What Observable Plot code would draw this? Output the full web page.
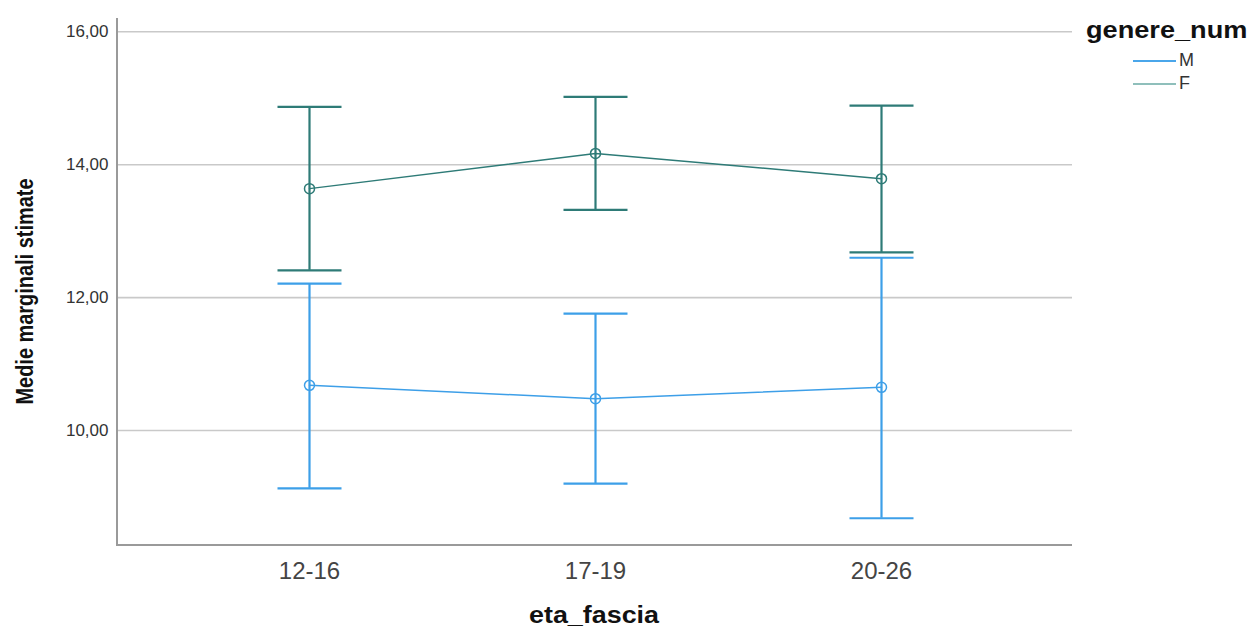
<!DOCTYPE html>
<html>
<head>
<meta charset="utf-8">
<script src="https://cdn.jsdelivr.net/npm/d3@7"></script>
<script src="https://cdn.jsdelivr.net/npm/@observablehq/plot@0.6"></script>
<style>
  html, body { margin: 0; padding: 0; background: #fff; }
  #wrap { position: relative; width: 1252px; height: 630px; font-family: "Liberation Sans", Arial, sans-serif; }
  #legend { position: absolute; left: 1086px; top: 17px; color: #000; }
  #legend .title { font-weight: bold; font-size: 23px; transform: scaleX(1.18); transform-origin: left center; white-space: nowrap; color: #111; }
  #legend .item { position: absolute; left: 47px; font-size: 18px; color: #333; white-space: nowrap; }
  #legend .item span { display: inline-block; width: 43px; height: 2px; vertical-align: middle; margin-right: 3px; }
</style>
</head>
<body>
<div id="wrap">
  <div id="chart"></div>
  <div id="legend">
    <div class="title">genere_num</div>
    <div class="item" style="top:33px"><span style="background:#4aa6ea"></span>M</div>
    <div class="item" style="top:56px"><span style="background:#8fbfbb"></span>F</div>
  </div>
</div>
<script>
const ageGroups = ["12-16", "17-19", "20-26"];
const genders = ["M", "F"];
const meanM = [10.68, 10.48, 10.65];
const lowerM = [9.13, 9.20, 8.68];
const upperM = [12.21, 11.76, 12.60];
const meanF = [13.64, 14.17, 13.79];
const lowerF = [12.41, 13.32, 12.68];
const upperF = [14.87, 15.02, 14.89];
const yTicks = [10, 12, 14, 16];
const colors = {M: "#3d9fe8", F: "#2e7b77"};

const rows = [];
ageGroups.forEach((a, i) => {
  rows.push({age: a, g: "M", mean: meanM[i], lo: lowerM[i], hi: upperM[i]});
  rows.push({age: a, g: "F", mean: meanF[i], lo: lowerF[i], hi: upperF[i]});
});

const capSymbol = {
  draw(context) {
    context.moveTo(-32, 0);
    context.lineTo(32, 0);
  }
};

const W = 1252, H = 630;
const mL = 117, mR = 180, mT = 18, mB = 85;

const plot = Plot.plot({
  width: W,
  height: H,
  marginLeft: mL,
  marginRight: mR,
  marginTop: mT,
  marginBottom: mB,
  style: {fontFamily: "'Liberation Sans', Arial, sans-serif", background: "#fff", overflow: "visible"},
  x: {type: "point", domain: ageGroups, padding: 0.664, label: null, axis: null},
  y: {domain: [8.27, 16.2], label: null, axis: null},
  marks: [
    Plot.ruleY(yTicks, {stroke: "#c9c9c9", strokeWidth: 1.6}),
    Plot.axisY({ticks: yTicks, tickSize: 0, tickPadding: 9, fontSize: 17, color: "#333", tickFormat: d => d3.format(".2f")(d).replace(".", ","), label: null}),
    Plot.axisX({tickSize: 0, tickPadding: 16, fontSize: 24, color: "#444", label: null}),
    Plot.ruleX(rows, {x: "age", y1: "lo", y2: "hi", stroke: d => colors[d.g], strokeWidth: 2.2}),
    Plot.dot(rows, {x: "age", y: "lo", symbol: capSymbol, fill: "none", stroke: d => colors[d.g], strokeWidth: 2.2}),
    Plot.dot(rows, {x: "age", y: "hi", symbol: capSymbol, fill: "none", stroke: d => colors[d.g], strokeWidth: 2.2}),
    Plot.line(rows, {x: "age", y: "mean", z: "g", stroke: d => colors[d.g], strokeWidth: 1.5}),
    Plot.dot(rows, {x: "age", y: "mean", r: 5, stroke: d => colors[d.g], strokeWidth: 1.5, fill: "none"})
  ]
});

const svg = d3.select(plot);
// axis frame lines (left and bottom)
svg.append("path")
  .attr("d", `M${mL},${mT}V${H - mB}H${W - mR}`)
  .attr("fill", "none")
  .attr("stroke", "#9a9a9a")
  .attr("stroke-width", 2);
// y-axis title
svg.append("text")
  .attr("transform", `translate(33,${(178 + 405) / 2}) rotate(-90)`)
  .attr("text-anchor", "middle")
  .attr("font-size", 23)
  .attr("font-weight", "bold")
  .attr("fill", "#111")
  .attr("textLength", 226)
  .attr("lengthAdjust", "spacingAndGlyphs")
  .text("Medie marginali stimate");
// x-axis title
svg.append("text")
  .attr("x", 594)
  .attr("y", 623)
  .attr("text-anchor", "middle")
  .attr("font-size", 23)
  .attr("font-weight", "bold")
  .attr("fill", "#111")
  .attr("textLength", 130)
  .attr("lengthAdjust", "spacingAndGlyphs")
  .text("eta_fascia");

document.getElementById("chart").appendChild(plot);
</script>
</body>
</html>
